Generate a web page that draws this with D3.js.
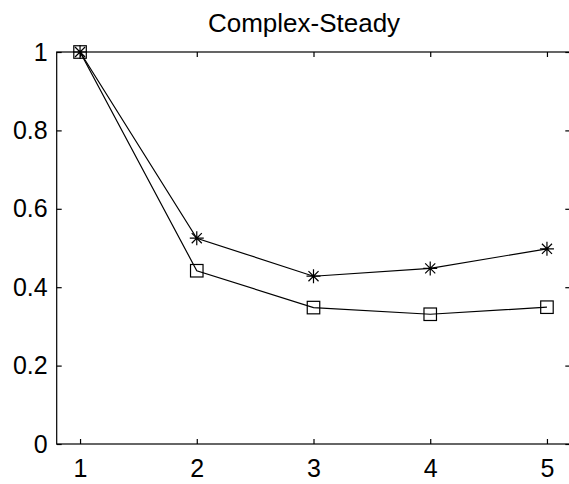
<!DOCTYPE html>
<html>
<head>
<meta charset="utf-8">
<script src="https://cdn.jsdelivr.net/npm/d3@7/dist/d3.min.js"></script>
<style>
html,body{margin:0;padding:0;background:#fff;overflow:hidden;}
text{font-family:"Liberation Sans",Arial,sans-serif;fill:#000;}
</style>
</head>
<body>
<svg id="chart" width="569" height="484"></svg>
<script>
const title = "Complex-Steady";
const xCategories = [1, 2, 3, 4, 5];
const starSeries = [1.0, 0.525, 0.428, 0.448, 0.498];
const squareSeries = [1.0, 0.442, 0.348, 0.331, 0.349];
const yTicks = [0, 0.2, 0.4, 0.6, 0.8, 1];
const yTickLabels = ["0", "0.2", "0.4", "0.6", "0.8", "1"];
const xTickLabels = ["1", "2", "3", "4", "5"];

(function () {
const svg = d3.select("#chart");
const pl = 56.7, pr = 570.3, pt = 52, pb = 444;
const x = d3.scaleLinear().domain([0.8, 5.2]).range([pl, pr]);
const y = d3.scaleLinear().domain([0, 1]).range([pb, pt]);
const tickLen = 5;
const fs = 25;

const g = svg.append("g");
g.append("rect").attr("x", pl).attr("y", pt).attr("width", pr - pl).attr("height", pb - pt)
  .attr("fill", "none").attr("stroke", "#000").attr("stroke-width", 1.2);

const xb = d3.axisBottom(x).tickValues(xCategories).tickSize(-tickLen).tickPadding(15)
  .tickFormat((d, i) => xTickLabels[i]);
const gxb = g.append("g").attr("transform", `translate(0,${pb})`).call(xb);
const xt = d3.axisTop(x).tickValues(xCategories).tickSize(-tickLen).tickFormat("");
const gxt = g.append("g").attr("transform", `translate(0,${pt})`).call(xt);
const yl = d3.axisLeft(y).tickValues(yTicks).tickSize(-tickLen).tickPadding(9)
  .tickFormat((d, i) => yTickLabels[i]);
const gyl = g.append("g").attr("transform", `translate(${pl},0)`).call(yl);
const yr = d3.axisRight(y).tickValues(yTicks).tickSize(-tickLen).tickFormat("");
const gyr = g.append("g").attr("transform", `translate(${pr},0)`).call(yr);

[gxb, gxt, gyl, gyr].forEach(a => {
  a.select(".domain").remove();
  a.selectAll(".tick line").attr("stroke", "#000").attr("stroke-width", 1.2);
  a.selectAll("text").attr("font-size", fs).attr("fill", "#000")
    .style("font-family", '"Liberation Sans",Arial,sans-serif');
});
gxb.selectAll("text").attr("dy", "0.71em");

svg.append("text").attr("x", 304).attr("y", 31.5)
  .attr("text-anchor", "middle").attr("font-size", 26).text(title);

const line = d3.line().x((d, i) => x(xCategories[i])).y(d => y(d));

svg.append("path").datum(starSeries).attr("d", line)
  .attr("fill", "none").attr("stroke", "#000").attr("stroke-width", 1.2);
svg.append("path").datum(squareSeries).attr("d", line)
  .attr("fill", "none").attr("stroke", "#000").attr("stroke-width", 1.2);

const sq = 12.5;
svg.append("g").selectAll("rect").data(squareSeries).join("rect")
  .attr("x", (d, i) => x(xCategories[i]) - sq / 2)
  .attr("y", d => y(d) - sq / 2)
  .attr("width", sq).attr("height", sq)
  .attr("fill", "none").attr("stroke", "#000").attr("stroke-width", 1.2);

const r = 7, rd = r * 0.72;
const starPath = `M${-r},0L${r},0M0,${-r}L0,${r}M${-rd},${-rd}L${rd},${rd}M${-rd},${rd}L${rd},${-rd}`;
svg.append("g").selectAll("path").data(starSeries).join("path")
  .attr("transform", (d, i) => `translate(${x(xCategories[i])},${y(d)})`)
  .attr("d", starPath)
  .attr("fill", "none").attr("stroke", "#000").attr("stroke-width", 1.2);
})();
</script>
</body>
</html>
